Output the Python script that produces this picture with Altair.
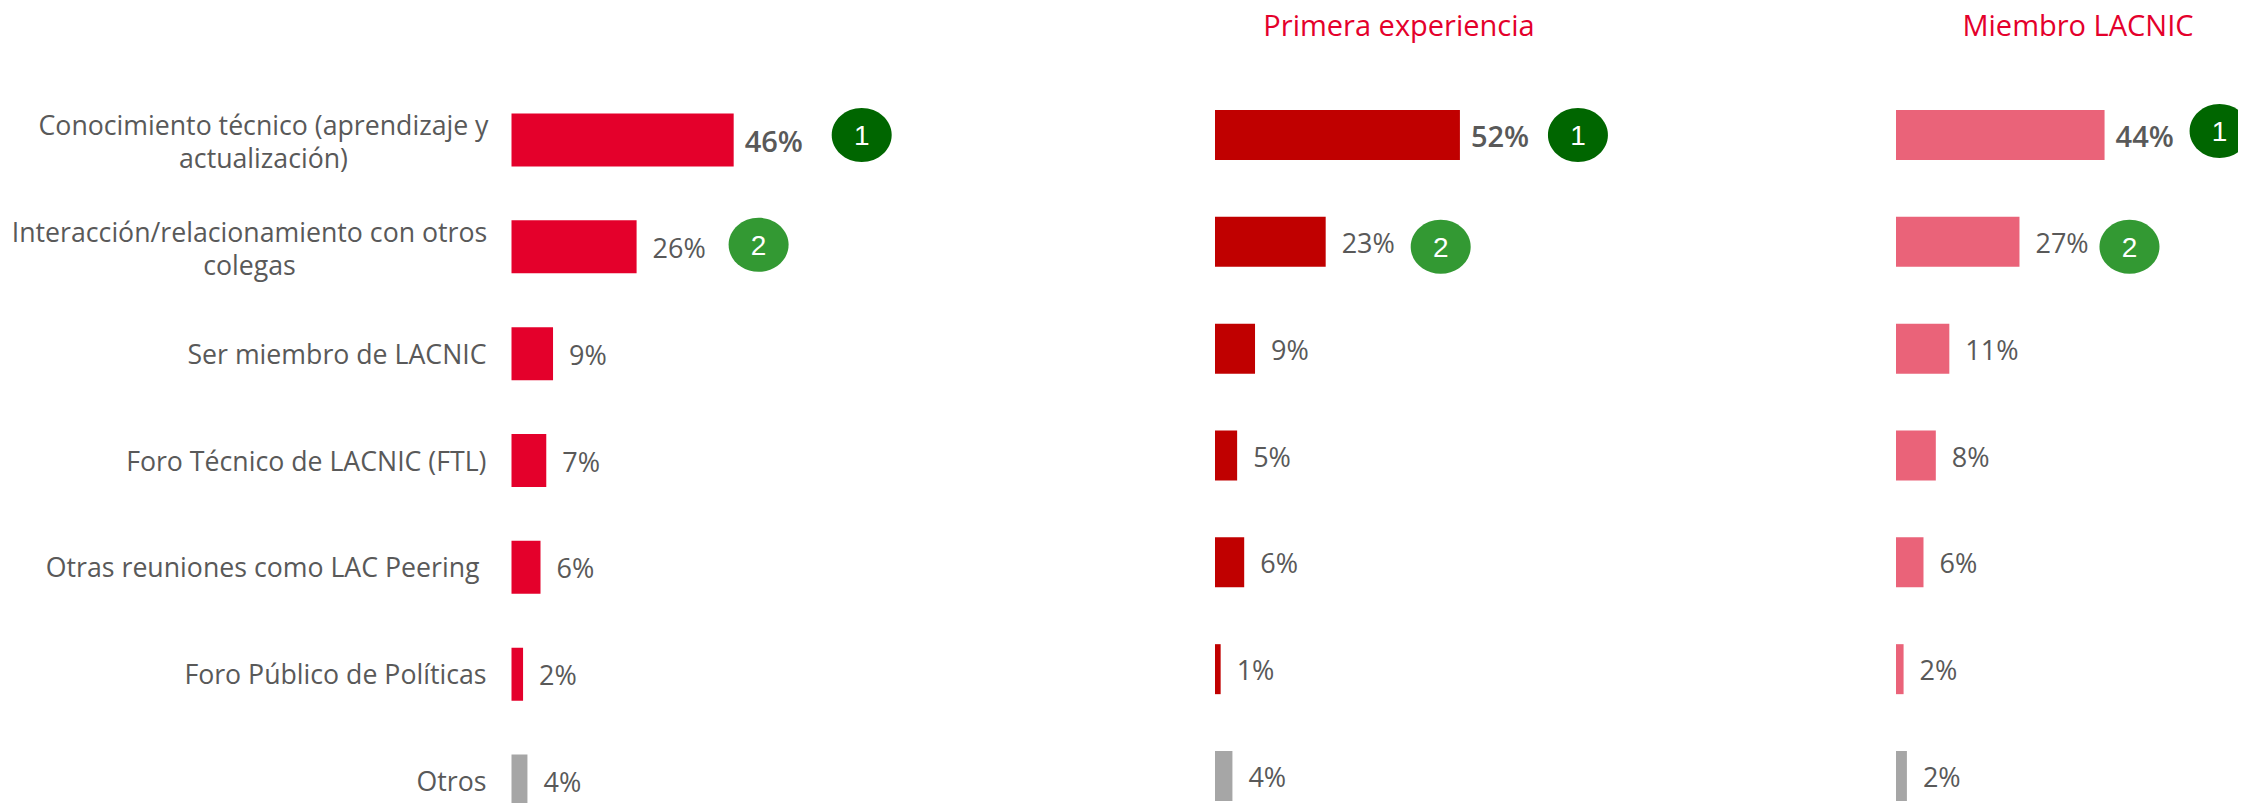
import altair as alt
import pandas as pd

categories = [
    "Conocimiento técnico (aprendizaje y\nactualización)",
    "Interacción/relacionamiento con otros\ncolegas",
    "Ser miembro de LACNIC",
    "Foro Técnico de LACNIC (FTL)",
    "Otras reuniones como LAC Peering",
    "Foro Público de Políticas",
    "Otros",
]
# printed labels
total_labels = [46, 26, 9, 7, 6, 2, 4]
primera_labels = [52, 23, 9, 5, 6, 1, 4]
miembro_labels = [44, 27, 11, 8, 6, 2, 2]
# bar lengths
total = [46, 25.9, 8.6, 7.2, 6.0, 2.4, 3.3]
primera = [52, 23.5, 8.5, 4.7, 6.2, 1.2, 3.7]
miembro = [44, 26.05, 11.25, 8.4, 5.8, 1.6, 2.3]

FONT = "Open Sans"
GREY = "#595959"
RED = "#E4002B"
OTHER = "#A6A6A6"
DOMAIN = [0, 100]

panels = [
    dict(values=total, labels=total_labels, color=RED, xr=[503.5, 986.5], yr=[132, 773], bar=53,
         badge=[(128, -5), (122, -2)]),
    dict(values=primera, labels=primera_labels, color="#C00000", xr=[1207, 1678], yr=[127, 768], bar=50,
         badge=[(118, 0), (115, 5)]),
    dict(values=miembro, labels=miembro_labels, color="#EA6379", xr=[1888, 2362], yr=[127, 768], bar=50,
         badge=[(115, -4), (110, 5)]),
]
badge_colors = ["#006600", "#339933"]
badge_path = "M -1 0 A 1 0.9 0 1 0 1 0 A 1 0.9 0 1 0 -1 0 Z"

layers = []


def enc(xr, yr):
    return dict(
        x=alt.X("v:Q", scale=alt.Scale(domain=DOMAIN, range=xr), axis=None, stack=None),
        y=alt.Y("c:N", scale=alt.Scale(type="point", domain=categories, range=yr, padding=0), axis=None),
    )


for p in panels:
    df = pd.DataFrame({"c": categories, "v": p["values"]})
    df["col"] = [OTHER if c == "Otros" else p["color"] for c in categories]
    df["t"] = [f"{v}%" for v in p["labels"]]
    layers.append(
        alt.Chart(df).mark_bar(height=p["bar"]).encode(
            color=alt.Color("col:N", scale=None), **enc(p["xr"], p["yr"])
        )
    )
    for i in range(len(categories)):
        first = i == 0
        layers.append(
            alt.Chart(df.iloc[[i]]).mark_text(
                align="left",
                dx=11 if first else 16,
                dy=3,
                font=FONT,
                fontSize=29 if first else 27,
                fontWeight=600 if first else 400,
                color=GREY,
            ).encode(text="t:N", **enc(p["xr"], p["yr"]))
        )
    for rank in range(2):
        dx, dy = p["badge"][rank]
        b = df.iloc[[rank]]
        layers.append(
            alt.Chart(b).mark_point(
                shape=badge_path, filled=True, size=3600, opacity=1,
                color=badge_colors[rank], xOffset=dx, yOffset=dy,
            ).encode(**enc(p["xr"], p["yr"]))
        )
        layers.append(
            alt.Chart(b.assign(n=str(rank + 1))).mark_text(
                font="Liberation Sans", fontSize=28, color="white",
                dx=dx, dy=dy + 2,
            ).encode(text="n:N", **enc(p["xr"], p["yr"]))
        )

# category labels: (align, dx, dy)
label_pos = [("center", -248, -13), ("center", -262, -13), ("right", -25, 2), ("right", -25, 2),
             ("right", -32, 2), ("right", -25, 2), ("right", -25, 2)]
p0 = panels[0]
for i, c in enumerate(categories):
    align, dx, dy = label_pos[i]
    d = pd.DataFrame({"c": [c], "v": [0]})
    layers.append(
        alt.Chart(d).mark_text(
            align=align, dx=dx, dy=dy, font=FONT, fontSize=26.7, color=GREY,
            lineBreak="\n", lineHeight=33,
        ).encode(text="c:N", **enc(p0["xr"], p0["yr"]))
    )

for title, px in [("Primera experiencia", 1391), ("Miembro LACNIC", 2070)]:
    layers.append(
        alt.Chart(pd.DataFrame({"t": [title]})).mark_text(
            font=FONT, fontSize=29, color=RED, align="center",
        ).encode(x=alt.value(px), y=alt.value(19), text="t:N")
    )

chart = (
    alt.layer(*layers)
    .resolve_scale(x="independent", y="independent")
    .properties(width=2230, height=795, padding=0, autosize=alt.AutoSizeParams(type="none"))
    .configure_view(stroke=None)
)
chart.save("out.html", embed_options={"renderer": "svg", "actions": False})
